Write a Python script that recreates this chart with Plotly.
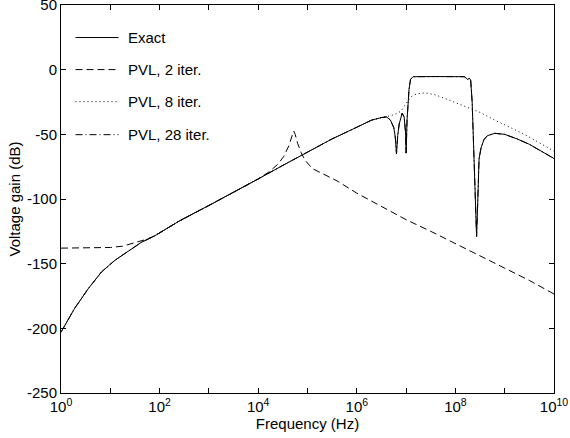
import plotly.graph_objects as go

# ---- data (frequency given as decade exponent, gain in dB) ----
exact_exp = [0, 0.27, 0.55, 0.82, 1.09, 1.36, 1.63, 1.9, 2.4, 3.0, 3.5, 4.0, 4.5, 5.0, 5.5,
             6.0, 6.3, 6.5, 6.6, 6.68, 6.75, 6.78, 6.805, 6.83, 6.86, 6.92, 6.96, 6.99, 7.0,
             7.02, 7.04, 7.06, 7.09, 7.14, 7.6, 8.0, 8.18, 8.22, 8.25, 8.28, 8.31, 8.34, 8.38,
             8.41, 8.43, 8.455, 8.48, 8.52, 8.58, 8.65, 8.8, 9.0, 9.25, 9.5, 9.75, 10]
exact_db = [-203, -185, -169.5, -156.5, -147.5, -140.5, -133.5, -128.5, -117, -105, -95, -84.5,
            -74, -63.5, -53.5, -44.5, -39, -37, -36.5, -38.8, -44.8, -52, -65, -51, -42, -33.7,
            -36.5, -49, -64.5, -38.4, -25.5, -15, -7.5, -5.4, -5.3, -5.3, -5.4, -6.5, -7.8, -6.5,
            -8, -25, -69, -100, -129, -100, -69, -60.5, -54, -51, -49.2, -50, -53.5, -57.7,
            -63, -68.7]

pvl2_exp = [0, 0.5, 1.0, 1.25, 1.5, 1.75, 1.9, 2.4, 3.0, 3.5, 4.0, 4.24, 4.4, 4.52, 4.62,
            4.68, 4.72, 4.75, 4.8, 4.87, 4.95, 5.1, 5.3, 5.6, 6.0, 6.5, 7.0, 7.5, 8.0, 8.5,
            9.0, 9.5, 10]
pvl2_db = [-138, -138, -137.5, -136.5, -134, -131, -128.5, -117, -105, -95, -84.5, -78.5, -73,
           -67, -59, -52, -47.5, -50, -57, -64, -70, -76.5, -80.5, -86, -95.5, -106, -116,
           -125, -134.5, -144, -153, -163, -173.5]

pvl8_exp = [0, 0.27, 0.55, 0.82, 1.09, 1.36, 1.63, 1.9, 2.4, 3.0, 3.5, 4.0, 4.5, 5.0, 5.5,
            6.0, 6.3, 6.5, 6.6, 6.7, 6.8, 6.9, 7.0, 7.1, 7.2, 7.3, 7.4, 7.5, 7.6, 7.8, 8.0,
            8.2, 8.5, 8.8, 9.1, 9.4, 9.7, 10]
pvl8_db = [-203, -185, -169.5, -156.5, -147.5, -140.5, -133.5, -128.5, -117, -105, -95, -84.5,
           -74, -63.5, -53.5, -44.5, -39, -37, -36.5, -35.5, -34, -32, -26, -21, -19, -18.2,
           -18, -18.5, -19.5, -22.5, -25.5, -28.5, -33, -39, -44.5, -50, -56.5, -63]

pvl28_exp = list(exact_exp)
pvl28_db = list(exact_db)

x_tick_exp = list(range(0, 11))
y_ticks = [-250, -200, -150, -100, -50, 0, 50]

legend_names = ["Exact", "PVL, 2 iter.", "PVL, 8 iter.", "PVL, 28 iter."]
dashes = ["solid", "7px,4px", "1px,3px", "7px,3px,1px,3px"]

FONT = "Liberation Sans, Arial, sans-serif"
FS = 15


def hz(exps):
    return [10 ** e for e in exps]


fig = go.Figure()
series = [(pvl28_exp, pvl28_db, dashes[3]), (pvl2_exp, pvl2_db, dashes[1]),
          (pvl8_exp, pvl8_db, dashes[2]), (exact_exp, exact_db, dashes[0])]
for ex, db, dsh in series:
    fig.add_trace(go.Scatter(x=hz(ex), y=db, mode="lines", showlegend=False,
                             line=dict(color="black", width=1, dash=dsh)))

# manual MATLAB-style legend
L, R, T, B = 61.5, 554.0, 5.5, 393.0
def px(xp):
    return (xp - L) / (R - L)
def py(yp):
    return (B - yp) / (B - T)

rows = [38, 70, 102, 135]
for name, dsh, yr in zip(legend_names, dashes, rows):
    fig.add_shape(type="line", xref="paper", yref="paper", x0=px(76), x1=px(119),
                  y0=py(yr), y1=py(yr), line=dict(color="black", width=1, dash=dsh))
    fig.add_annotation(xref="paper", yref="paper", x=px(126), y=py(yr), text=name,
                       showarrow=False, xanchor="left", yanchor="middle",
                       font=dict(family=FONT, size=FS, color="black"))

fig.update_layout(
    width=570, height=438,
    margin=dict(l=61, r=16, t=5, b=45, autoexpand=False),
    paper_bgcolor="white", plot_bgcolor="white",
    font=dict(family=FONT, size=FS, color="black"),
    showlegend=False,
)
fig.update_xaxes(
    type="log", range=[0, 10.0001], automargin=False,
    tickvals=hz(x_tick_exp),
    ticktext=[("10<sup>%d</sup>" % e) if e % 2 == 0 else "" for e in x_tick_exp],
    ticks="inside", ticklen=5, tickcolor="black", tickwidth=1,
    showline=True, linecolor="black", linewidth=1, mirror="ticks",
    showgrid=False, zeroline=False, ticklabeloverflow="allow",
    title=dict(text="Frequency (Hz)", standoff=0, font=dict(size=FS)),
)
fig.update_yaxes(
    range=[-250.05, 50.05], tickvals=y_ticks, ticktext=[str(v) for v in y_ticks],
    automargin=False,
    ticks="inside", ticklen=5, tickcolor="black", tickwidth=1,
    showline=True, linecolor="black", linewidth=1, mirror="ticks",
    showgrid=False, zeroline=False, ticklabeloverflow="allow",
    title=dict(text="Voltage gain (dB)", standoff=2, font=dict(size=FS)),
)

fig.write_html("out.html")
